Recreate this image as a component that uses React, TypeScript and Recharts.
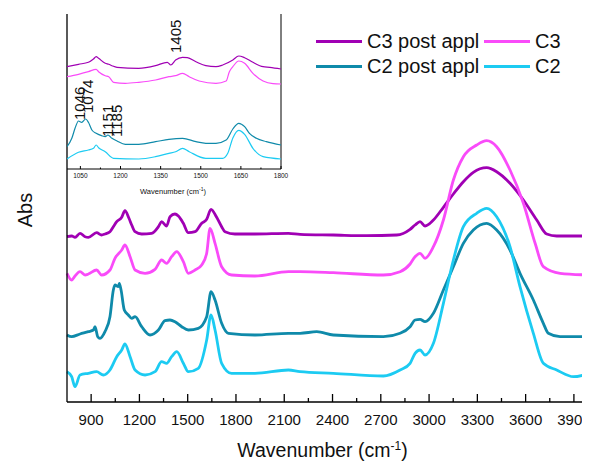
import React from 'react';
import { LineChart, Line, XAxis, YAxis, Legend, ReferenceLine, ReferenceDot } from 'recharts';

const FONT = "'Liberation Sans', Arial, sans-serif";

// axis ticks (main plot)
const majorTicks = [900, 1200, 1500, 1800, 2100, 2400, 2700, 3000, 3300, 3600, 3900];
const minorTicks = [1050, 1350, 1650, 1950, 2250, 2550, 2850, 3150, 3450, 3750];
const mainTicks = [...majorTicks, ...minorTicks].sort((a, b) => a - b);

// axis ticks (inset)
const insetMajorTicks = [1050, 1200, 1350, 1500, 1650, 1800];
const insetMinorTicks = [1125, 1275, 1425, 1575, 1725];
const insetTicks = [...insetMajorTicks, ...insetMinorTicks].sort((a, b) => a - b);

const seriesNames = ['C3 post appl', 'C3', 'C2 post appl', 'C2'];
const seriesColors = ['#a000b4', '#f94bf9', '#0f8aaa', '#1ccbf2'];

// [wavenumber, abs (offset, arbitrary units)]
const c3PostMain: [number, number][] = [
  [750, 165.3], [779, 166], [800, 164.7], [831, 168.7], [862, 165.3], [883, 164.7], [934, 169.3],
  [965, 167], [986, 168], [1017, 170.3], [1038, 175.3], [1059, 180.3], [1090, 184.7], [1110, 191.3],
  [1135, 183.7], [1152, 177], [1173, 170.3], [1214, 168], [1276, 168.7], [1318, 175.3], [1338, 180.3],
  [1369, 176], [1390, 185.3], [1421, 188], [1442, 186], [1473, 178.7], [1504, 169.3], [1546, 170.3],
  [1587, 178.7], [1618, 182.7], [1645, 192.7], [1680, 184.7], [1711, 175.3], [1732, 170.3], [1794, 168],
  [1918, 168], [2126, 168.7], [2198, 167.7], [2405, 167], [2612, 166.3], [2799, 167], [2882, 172.7],
  [2913, 177], [2944, 180.3], [2975, 176], [3027, 182], [3089, 194.7], [3151, 208], [3213, 220.3],
  [3275, 229.7], [3358, 234.3], [3420, 230.3], [3503, 218.7], [3586, 202], [3669, 182], [3731, 168],
  [3793, 166], [4000, 166],
];
const c3Main: [number, number][] = [
  [750, 128.7], [779, 122], [800, 126], [831, 130.3], [862, 127], [883, 128], [934, 132], [965, 127],
  [1017, 132], [1048, 143.7], [1090, 152], [1110, 157], [1142, 145.3], [1173, 132], [1235, 128.7],
  [1297, 132.7], [1338, 142], [1369, 138.7], [1400, 145.3], [1432, 150.3], [1473, 140.3], [1504, 128.7],
  [1546, 132], [1587, 137], [1618, 148.7], [1639, 173.7], [1670, 158.7], [1711, 135.3], [1773, 127],
  [1918, 126], [2126, 130.3], [2198, 130.3], [2405, 129.3], [2716, 127], [2820, 130.3], [2882, 138],
  [2913, 145.3], [2944, 148.7], [2975, 143.7], [3027, 155.3], [3089, 182], [3151, 222], [3213, 245.3],
  [3296, 257], [3358, 261.3], [3420, 255.3], [3503, 232], [3586, 198.7], [3659, 158.7], [3710, 135.3],
  [3814, 128.7], [4000, 127],
];
const c2PostMain: [number, number][] = [
  [750, 67], [779, 65.3], [831, 68], [883, 70.3], [914, 72], [924, 75.3], [941, 65.3], [955, 63.7],
  [986, 70.3], [1017, 85.3], [1038, 112], [1048, 117], [1069, 115.3], [1075, 118.7], [1086, 112],
  [1106, 92], [1131, 87], [1152, 83.7], [1173, 85.3], [1214, 75.3], [1266, 67], [1318, 72], [1359, 81.3],
  [1390, 82], [1421, 80.3], [1463, 75.3], [1504, 72], [1566, 73.7], [1618, 85.3], [1645, 110.3],
  [1670, 102], [1711, 78.7], [1753, 68.7], [1918, 67], [2126, 68.7], [2198, 68.7], [2302, 70.3],
  [2405, 67], [2716, 65.3], [2820, 68.7], [2882, 75.3], [2913, 82], [2944, 82.7], [2975, 80.3],
  [3027, 88.7], [3089, 112], [3151, 135.3], [3213, 158.7], [3275, 172], [3358, 178.7], [3420, 172],
  [3503, 152], [3565, 128.7], [3648, 102], [3710, 78.7], [3741, 68.7], [3814, 65.3], [4000, 65.3],
];
const c2Main: [number, number][] = [
  [750, 30.3], [779, 25.3], [800, 15.3], [831, 27], [883, 28.7], [934, 30.3], [976, 27], [1017, 32],
  [1059, 45.3], [1090, 52], [1110, 58], [1142, 45.3], [1173, 32], [1235, 27], [1297, 30.3], [1338, 40.3],
  [1369, 38.7], [1400, 45.3], [1432, 50.3], [1473, 38.7], [1504, 30.3], [1566, 33.7], [1618, 62],
  [1645, 87], [1670, 72], [1711, 38.7], [1773, 28.7], [1918, 28.7], [2126, 32], [2198, 30.3],
  [2405, 28.7], [2716, 26], [2820, 32], [2882, 38.7], [2913, 48.7], [2944, 52], [2975, 47], [3027, 58.7],
  [3089, 98.7], [3151, 142], [3213, 175.3], [3296, 188.7], [3358, 193.7], [3420, 185.3], [3503, 155.3],
  [3565, 115.3], [3648, 68.7], [3710, 38.7], [3793, 32], [3897, 25.3], [4000, 28.7],
];

// inset, 1000-1800 cm-1
const c3PostInset: [number, number][] = [
  [1000, 102.3], [1043, 104.7], [1080, 106.7], [1099, 110], [1109, 112.3], [1118, 110.7], [1143, 105.7],
  [1156, 104.7], [1168, 103.3], [1187, 101.7], [1268, 100.7], [1331, 103.3], [1375, 106.7], [1388, 104],
  [1406, 109], [1432, 111.7], [1450, 111.3], [1482, 107.3], [1519, 103.3], [1557, 102.3], [1582, 104],
  [1620, 109], [1642, 113], [1664, 111.3], [1695, 106.7], [1733, 102.3], [1758, 101.7], [1800, 100],
];
const c3Inset: [number, number][] = [
  [1000, 92.3], [1043, 94.7], [1080, 97.3], [1109, 99.7], [1118, 97.3], [1143, 93.3], [1156, 92.3],
  [1174, 86.7], [1218, 85.7], [1268, 86.7], [1331, 89], [1381, 92.3], [1406, 93.3], [1432, 95.7],
  [1457, 92.3], [1494, 88], [1557, 85.7], [1595, 88], [1607, 97.3], [1620, 102.3], [1642, 108],
  [1664, 105.7], [1695, 95.7], [1733, 88], [1770, 85.3], [1800, 85],
];
const c2PostInset: [number, number][] = [
  [1000, 22.3], [1018, 30.7], [1030, 40.7], [1043, 48], [1055, 46.7], [1070, 50], [1080, 46.7],
  [1093, 39], [1109, 35.7], [1130, 33.3], [1143, 32.3], [1153, 34], [1168, 30.7], [1187, 28],
  [1218, 24.7], [1268, 24.7], [1331, 27.3], [1381, 29.7], [1432, 30.7], [1482, 27.3], [1519, 25.7],
  [1557, 25.7], [1595, 29], [1620, 40], [1642, 45.7], [1664, 42.3], [1682, 35.7], [1708, 30.7],
  [1745, 27.3], [1800, 24],
];
const c2Inset: [number, number][] = [
  [1000, 10], [1043, 16.7], [1080, 19], [1099, 20.7], [1109, 24], [1118, 21.3], [1143, 17.3],
  [1174, 10.7], [1268, 10], [1331, 12.3], [1381, 15.7], [1406, 17.3], [1432, 20.7], [1457, 17.3],
  [1519, 10.7], [1582, 10.7], [1601, 15.7], [1620, 31], [1642, 38.7], [1664, 34.7], [1695, 20.7],
  [1733, 12.3], [1800, 10],
];

// peak labels in the inset: wavenumber, and where the label ends (abs)
const peakLabels = [1046, 1074, 1151, 1185, 1405];
const peakLabelAbs = [49, 56, 32, 32, 116];

const toPoints = (arr: [number, number][]) => arr.map(([wn, abs]) => ({ wn, abs }));
const mainSeries = [c3PostMain, c3Main, c2PostMain, c2Main].map(toPoints);
const insetSeries = [c3PostInset, c3Inset, c2PostInset, c2Inset].map(toPoints);

const axisTick = (
  major: number[], len: number, minorLen: number, dir: number,
  labelDy: number, fontSize: number, showLabel: boolean, width: number
) => (props: any) => {
  const { x, y, payload } = props;
  const isMajor = major.includes(payload.value);
  return (
    <g>
      <line x1={x} x2={x} y1={y} y2={y + dir * (isMajor ? len : minorLen)} stroke="#000" strokeWidth={width} />
      {showLabel && isMajor && (
        <text x={x} y={y + labelDy} textAnchor="middle" fontSize={fontSize} fontFamily={FONT} fill="#111">
          {payload.value}
        </text>
      )}
    </g>
  );
};

const mainXTitle = (props: any) => {
  const { x, y, width } = props.viewBox;
  return (
    <text x={x + width / 2 - 6} y={y + 55} textAnchor="middle" fontSize={19.5} fontFamily={FONT} fill="#111">
      Wavenumber (cm<tspan dy={-7} fontSize={12}>-1</tspan><tspan dy={7}>)</tspan>
    </text>
  );
};

const mainYTitle = (props: any) => {
  const { x, y, height } = props.viewBox;
  const cx = x + 24;
  const cy = y + height / 2 + 2;
  return (
    <text x={cx} y={cy} transform={`rotate(-90, ${cx}, ${cy})`} textAnchor="middle" fontSize={20} fontFamily={FONT} fill="#111">
      Abs
    </text>
  );
};

const insetXTitle = (props: any) => {
  const { x, y } = props.viewBox;
  return (
    <text x={x + 106} y={y + 24.5} textAnchor="middle" fontSize={7.5} fontFamily={FONT} fill="#111">
      Wavenumber (cm<tspan dy={-3} fontSize={5}>-1</tspan><tspan dy={3}>)</tspan>
    </text>
  );
};

const renderLegend = (props: any) => {
  const items = [...(props.payload || [])].sort(
    (a: any, b: any) => seriesNames.indexOf(a.value) - seriesNames.indexOf(b.value)
  );
  return (
    <div style={{ display: 'grid', gridTemplateColumns: '168px 110px', fontFamily: FONT, fontSize: 20, lineHeight: '25px', color: '#111', whiteSpace: 'nowrap' }}>
      {items.map((e: any) => (
        <div key={e.value} style={{ display: 'flex', alignItems: 'center', height: 25 }}>
          <span style={{ display: 'inline-block', flex: 'none', width: 46, height: 3, background: e.color, marginRight: 5 }} />
          <span>{e.value}</span>
        </div>
      ))}
    </div>
  );
};

export default function App() {
  return (
    <div style={{ position: 'relative', width: 582, height: 453 }}>
      <LineChart width={582} height={453} margin={{ top: 6, right: 0, bottom: 0, left: 0 }}>
        <XAxis
          dataKey="wn"
          type="number"
          domain={[750, 4000]}
          ticks={mainTicks}
          interval={0}
          tickSize={0}
          tickMargin={0}
          tickLine={false}
          axisLine={{ stroke: '#000', strokeWidth: 1.3 }}
          tick={axisTick(majorTicks, 8, 4, -1, 23, 15, true, 1.3)}
          height={59}
          label={mainXTitle}
        />
        <XAxis
          xAxisId="top"
          orientation="top"
          dataKey="wn"
          type="number"
          domain={[750, 4000]}
          ticks={mainTicks}
          interval={0}
          tickSize={0}
          tickMargin={0}
          tickLine={false}
          axisLine={{ stroke: '#000', strokeWidth: 1.3 }}
          tick={axisTick(majorTicks, 8, 4, 1, 0, 15, false, 1.3)}
          height={0}
        />
        <YAxis
          type="number"
          domain={[0, 388]}
          width={59}
          tick={false}
          tickLine={false}
          axisLine={{ stroke: '#000', strokeWidth: 1.3 }}
          label={mainYTitle}
        />
        <ReferenceLine x={4000} stroke="#777" strokeWidth={2} />
        {mainSeries.map((pts, i) => (
          <Line
            key={seriesNames[i]}
            data={pts}
            dataKey="abs"
            name={seriesNames[i]}
            type="monotone"
            stroke={seriesColors[i]}
            strokeWidth={2.8}
            dot={false}
            isAnimationActive={false}
          />
        ))}
        <Legend
          layout="horizontal"
          verticalAlign="middle"
          align="center"
          itemSorter={null as any}
          content={renderLegend}
          wrapperStyle={{ left: 308, top: 21, width: 280 }}
        />
      </LineChart>

      <div style={{ position: 'absolute', left: 59, top: 6 }}>
        <LineChart width={250} height={190} margin={{ top: 0, right: 36, bottom: 0, left: 0 }}>
          <XAxis
            dataKey="wn"
            type="number"
            domain={[1000, 1800]}
            ticks={insetTicks}
            interval={0}
            tickSize={0}
            tickMargin={0}
            tickLine={false}
            axisLine={{ stroke: '#000', strokeWidth: 1 }}
            tick={axisTick(insetMajorTicks, 3, 1.5, -1, 9, 6.5, true, 1)}
            height={35}
            label={insetXTitle}
          />
          <YAxis hide type="number" domain={[0, 155]} />
          <ReferenceLine x={1800} stroke="#000" strokeWidth={1} />
          {insetSeries.map((pts, i) => (
            <Line
              key={seriesNames[i]}
              data={pts}
              dataKey="abs"
              name={seriesNames[i]}
              type="monotone"
              stroke={seriesColors[i]}
              strokeWidth={1.2}
              dot={false}
              isAnimationActive={false}
            />
          ))}
          {peakLabels.map((wn, i) => (
            <ReferenceDot
              key={wn}
              x={wn}
              y={peakLabelAbs[i]}
              r={0}
              shape={(p: any) => (
                <text
                  x={p.cx + 6}
                  y={p.cy}
                  transform={`rotate(-90, ${p.cx + 6}, ${p.cy})`}
                  fontSize={15}
                  fontFamily={FONT}
                  fill="#111"
                >
                  {wn}
                </text>
              )}
            />
          ))}
        </LineChart>
      </div>
    </div>
  );
}
